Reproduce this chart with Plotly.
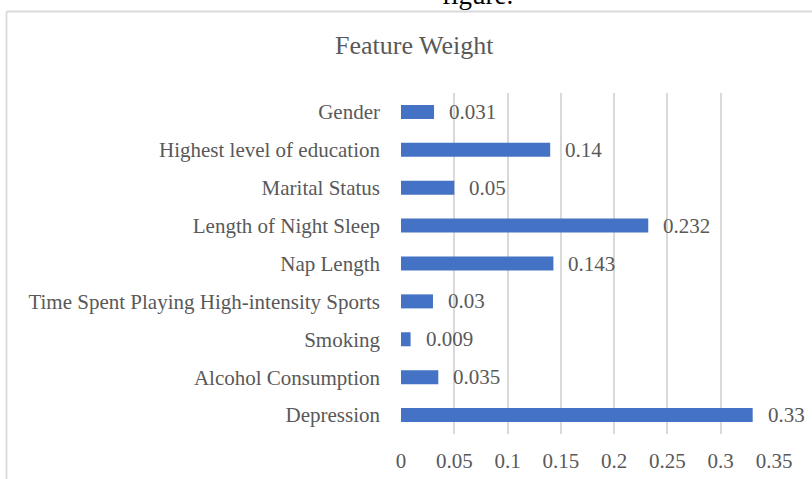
import plotly.graph_objects as go

# Feature weights (top to bottom as displayed)
features = [
    "Gender",
    "Highest level of education",
    "Marital Status",
    "Length of Night Sleep",
    "Nap Length",
    "Time Spent Playing High-intensity Sports",
    "Smoking",
    "Alcohol Consumption",
    "Depression",
]
weights = [0.031, 0.14, 0.05, 0.232, 0.143, 0.03, 0.009, 0.035, 0.33]
tick_vals = [0, 0.05, 0.1, 0.15, 0.2, 0.25, 0.3, 0.35]
tick_text = ["0", "0.05", "0.1", "0.15", "0.2", "0.25", "0.3", "0.35"]

W, H = 812, 479
ML, MR, MT, MB = 401, 38, 93, 45
PW, PH = W - ML - MR, H - MT - MB

FONT = "Liberation Serif"
GREY = "#595959"
LINE = "#D9D9D9"


def px_x(px):
    return (px - ML) / PW


def px_y(py):
    return (H - MB - py) / PH


fig = go.Figure(
    go.Bar(
        x=weights,
        y=features,
        orientation="h",
        marker=dict(color="#4472C4", line=dict(width=0)),
        hoverinfo="x+y",
    )
)

# value labels at the outside end of each bar
for f, w in zip(features, weights):
    fig.add_annotation(
        x=w, y=f, xref="x", yref="y",
        text=f"{w:g}", showarrow=False,
        xanchor="left", yanchor="middle", xshift=13,
        font=dict(family=FONT, size=21, color=GREY),
    )

# chart title
fig.add_annotation(
    x=px_x(414), y=px_y(46), xref="paper", yref="paper",
    text="Feature Weight", showarrow=False,
    xanchor="center", yanchor="middle",
    font=dict(family=FONT, size=26, color=GREY),
)

# caption text running off the top edge
fig.add_annotation(
    x=px_x(477), y=px_y(-5), xref="paper", yref="paper",
    text="figure.", showarrow=False,
    xanchor="center", yanchor="middle",
    font=dict(family=FONT, size=27, color="#000000"),
)

# chart-area border
fig.add_shape(
    type="line", xref="paper", yref="paper",
    x0=px_x(6.5), y0=px_y(11.5), x1=px_x(830), y1=px_y(11.5),
    line=dict(color=LINE, width=1.8),
)
fig.add_shape(
    type="line", xref="paper", yref="paper",
    x0=px_x(6.5), y0=px_y(11.5), x1=px_x(6.5), y1=px_y(500),
    line=dict(color=LINE, width=1.8),
)

fig.update_layout(
    width=W, height=H,
    margin=dict(l=ML, r=MR, t=MT, b=MB, pad=0, autoexpand=False),
    paper_bgcolor="white", plot_bgcolor="white",
    bargap=0.63,
    showlegend=False,
    font=dict(family=FONT, size=21, color=GREY),
    xaxis=dict(
        range=[0, 0.35],
        tickvals=tick_vals, ticktext=tick_text,
        showgrid=True, gridcolor=LINE, gridwidth=1.5,
        zeroline=False, showline=False,
        ticks="", ticklabelstandoff=12,
        tickfont=dict(family=FONT, size=21, color=GREY),
        automargin=False,
        fixedrange=True,
    ),
    yaxis=dict(
        categoryorder="array", categoryarray=features[::-1],
        showgrid=False, zeroline=False, showline=False,
        ticks="", ticklabelstandoff=20,
        tickfont=dict(family=FONT, size=21, color=GREY),
        automargin=False,
        fixedrange=True,
    ),
)

fig.write_html("out.html")
